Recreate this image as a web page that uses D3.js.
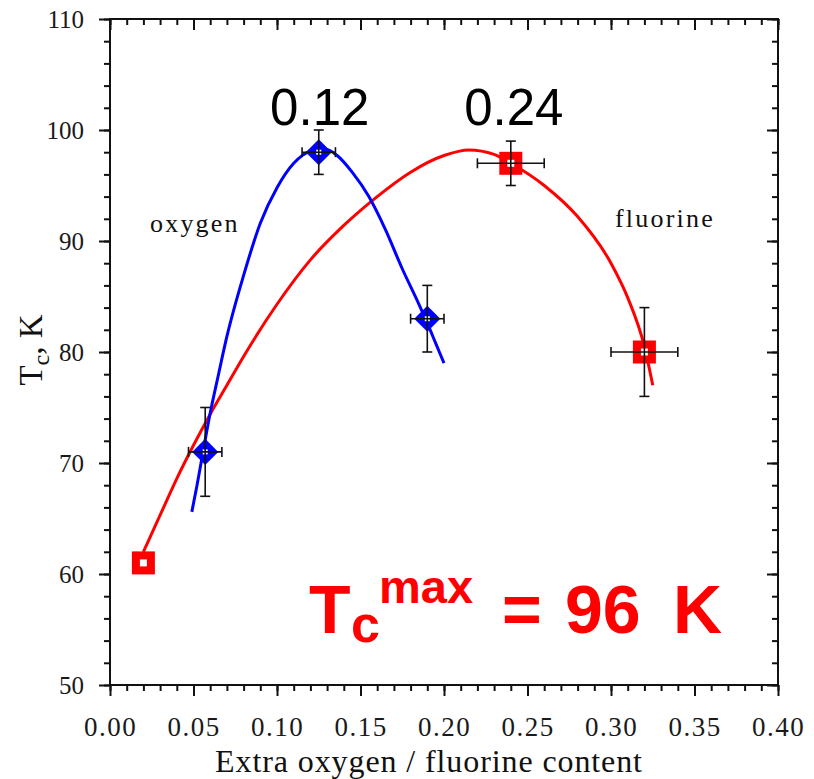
<!DOCTYPE html>
<html>
<head>
<meta charset="utf-8">
<script src="https://cdnjs.cloudflare.com/ajax/libs/d3/7.8.5/d3.min.js"></script>
<style>
  body { margin: 0; background: #fff; }
  svg { display: block; }
  .tick text { font-family: "Liberation Serif", "Times New Roman", serif; fill: #1a1a1a; }
</style>
</head>
<body>
<div id="chart"></div>
<script>
// measured points (x = extra content, y = Tc in K)
var oxyX = [0.057, 0.125, 0.19];
var oxyY = [71, 98, 83];
var oxyXErr = [0.01, 0.01, 0.01];
var oxyYErr = [4, 2, 3];

var fluX = [0.02, 0.24, 0.32];
var fluY = [61, 97, 80];
var fluXErr = [0, 0.02, 0.02];
var fluYErr = [0, 2, 4];

// fit curves
var oxyCurve = [[0.049, 65.6], [0.052, 67.9], [0.055, 70.4], [0.06, 74.5], [0.065, 78.0],
  [0.07, 81.4], [0.08, 86.9], [0.09, 91.6], [0.10, 94.8], [0.11, 97.0], [0.12, 98.1],
  [0.128, 98.3], [0.136, 97.7], [0.145, 96.2], [0.155, 94.0], [0.165, 91.0],
  [0.175, 87.5], [0.185, 84.3], [0.19, 82.6], [0.195, 80.8], [0.2, 79.0]];
var fluCurve = [[0.02, 62.0], [0.03, 65.3], [0.04, 68.6], [0.05, 71.6], [0.06, 74.4],
  [0.07, 77.0], [0.08, 79.6], [0.10, 84.3], [0.12, 88.3], [0.14, 91.4], [0.16, 94.0],
  [0.18, 96.2], [0.20, 97.7], [0.215, 98.2], [0.23, 97.8], [0.24, 97.0], [0.26, 95.0],
  [0.28, 92.2], [0.30, 88.0], [0.31, 84.9], [0.32, 80.5], [0.325, 77.0]];

var xMajor = [0, 0.05, 0.1, 0.15, 0.2, 0.25, 0.3, 0.35, 0.4];
var xMinor = d3.range(0, 41).map(function(i) { return i / 100; });
var yMajor = [50, 60, 70, 80, 90, 100, 110];
var yMinor = d3.range(50, 111, 2);

var width = 814, height = 779;
var plotL = 110, plotR = 778, plotT = 19, plotB = 685;

var svg = d3.select("#chart").append("svg")
  .attr("width", width)
  .attr("height", height);

var x = d3.scaleLinear().domain([0, 0.4]).range([plotL, plotR]);
var y = d3.scaleLinear().domain([50, 110]).range([plotB, plotT]);

function drawAxis(axis, tx, ty, fontSize) {
  var g = svg.append("g")
    .attr("transform", "translate(" + tx + "," + ty + ")")
    .call(axis);
  g.select(".domain").remove();
  g.selectAll(".tick line").attr("stroke", "#111").attr("stroke-width", 2);
  g.selectAll(".tick text").style("font-size", fontSize + "px");
  return g;
}

// minor ticks
drawAxis(d3.axisBottom(x).tickValues(xMinor).tickSize(6).tickFormat(""), 0, plotB);
drawAxis(d3.axisTop(x).tickValues(xMinor).tickSize(-6).tickFormat(""), 0, plotT);
drawAxis(d3.axisLeft(y).tickValues(yMinor).tickSize(6).tickFormat(""), plotL, 0);
drawAxis(d3.axisRight(y).tickValues(yMinor).tickSize(-6).tickFormat(""), plotR, 0);

// major ticks
var bx = drawAxis(d3.axisBottom(x).tickValues(xMajor).tickSize(11).tickPadding(21)
  .tickFormat(d3.format(".2f")), 0, plotB, 27);
drawAxis(d3.axisTop(x).tickValues(xMajor).tickSize(-11).tickFormat(""), 0, plotT);
var ly = drawAxis(d3.axisLeft(y).tickValues(yMajor).tickSize(11).tickPadding(15)
  .tickFormat(d3.format("d")), plotL, 0, 25);
drawAxis(d3.axisRight(y).tickValues(yMajor).tickSize(-11).tickFormat(""), plotR, 0);
bx.selectAll(".tick text").attr("letter-spacing", "1.5px");

// frame
svg.append("rect")
  .attr("x", plotL).attr("y", plotT)
  .attr("width", plotR - plotL).attr("height", plotB - plotT)
  .attr("fill", "none").attr("stroke", "#111").attr("stroke-width", 2);

// axis titles
svg.append("text")
  .attr("x", 429)
  .attr("y", 772)
  .attr("text-anchor", "middle")
  .attr("letter-spacing", "0.9px")
  .style("font-family", "Liberation Serif, serif")
  .style("font-size", "32px")
  .attr("fill", "#111")
  .text("Extra oxygen / fluorine content");

var yt = svg.append("text")
  .attr("transform", "translate(42,350) rotate(-90)")
  .attr("text-anchor", "middle")
  .style("font-family", "Liberation Serif, serif")
  .style("font-size", "33px")
  .attr("fill", "#111");
yt.append("tspan").text("T");
yt.append("tspan").attr("dy", 7).style("font-size", "24px").text("c");
yt.append("tspan").attr("dy", -7).text(", K");

// fit curves
var line = d3.line()
  .x(function(d) { return x(d[0]); })
  .y(function(d) { return y(d[1]); })
  .curve(d3.curveMonotoneX);

svg.append("path").datum(fluCurve)
  .attr("d", line).attr("fill", "none")
  .attr("stroke", "#ff0000").attr("stroke-width", 3);
svg.append("path").datum(oxyCurve)
  .attr("d", line).attr("fill", "none")
  .attr("stroke", "#0000ff").attr("stroke-width", 3);

var oxyData = oxyX.map(function(v, i) {
  return { x: v, y: oxyY[i], ex: oxyXErr[i], ey: oxyYErr[i] };
});
var fluData = fluX.map(function(v, i) {
  return { x: v, y: fluY[i], ex: fluXErr[i], ey: fluYErr[i] };
});

// markers
svg.selectAll(".sq").data(fluData).enter().append("rect")
  .attr("class", "sq")
  .attr("x", function(d) { return x(d.x) - 11.5; })
  .attr("y", function(d) { return y(d.y) - 11.5; })
  .attr("width", 23).attr("height", 23)
  .attr("fill", "#ff0000");
svg.selectAll(".sqc").data(fluData).enter().append("rect")
  .attr("x", function(d) { return x(d.x) - 3.5; })
  .attr("y", function(d) { return y(d.y) - 3.5; })
  .attr("width", 7).attr("height", 7)
  .attr("fill", "#fff");

var diamond = d3.symbol().type(d3.symbolSquare).size(340);
svg.selectAll(".dm").data(oxyData).enter().append("path")
  .attr("d", diamond)
  .attr("transform", function(d) { return "translate(" + x(d.x) + "," + y(d.y) + ") rotate(45)"; })
  .attr("fill", "#0000ff");
svg.selectAll(".dmc").data(oxyData).enter().append("rect")
  .attr("x", function(d) { return x(d.x) - 2.5; })
  .attr("y", function(d) { return y(d.y) - 2.5; })
  .attr("width", 5).attr("height", 5)
  .attr("fill", "#fff");

// error bars
function errorBars(data) {
  var g = svg.append("g").attr("stroke", "#111").attr("stroke-width", 1.6).attr("fill", "none");
  data.forEach(function(d) {
    if (d.ey > 0) {
      g.append("line").attr("x1", x(d.x)).attr("x2", x(d.x))
        .attr("y1", y(d.y + d.ey)).attr("y2", y(d.y - d.ey));
      [d.y + d.ey, d.y - d.ey].forEach(function(v) {
        g.append("line").attr("x1", x(d.x) - 5).attr("x2", x(d.x) + 5)
          .attr("y1", y(v)).attr("y2", y(v));
      });
    }
    if (d.ex > 0) {
      g.append("line").attr("y1", y(d.y)).attr("y2", y(d.y))
        .attr("x1", x(d.x - d.ex)).attr("x2", x(d.x + d.ex));
      [d.x - d.ex, d.x + d.ex].forEach(function(v) {
        g.append("line").attr("y1", y(d.y) - 5).attr("y2", y(d.y) + 5)
          .attr("x1", x(v)).attr("x2", x(v));
      });
    }
  });
}
errorBars(oxyData);
errorBars(fluData);

// labels
function label(txt, px, py, size, anchor) {
  return svg.append("text")
    .attr("x", px).attr("y", py)
    .attr("text-anchor", anchor || "start")
    .style("font-family", "Liberation Serif, serif")
    .style("font-size", size + "px")
    .attr("fill", "#111")
    .text(txt);
}
label("oxygen", 150, 232, 26).attr("letter-spacing", "2.2px");
label("fluorine", 615, 227, 26).attr("letter-spacing", "2.2px");

svg.append("text").attr("x", x(0.125) + 1).attr("y", 125)
  .attr("text-anchor", "middle")
  .style("font-family", "Liberation Sans, Arial, sans-serif")
  .style("font-size", "51px").attr("fill", "#000")
  .text("0.12");
svg.append("text").attr("x", x(0.24) + 3).attr("y", 125)
  .attr("text-anchor", "middle")
  .style("font-family", "Liberation Sans, Arial, sans-serif")
  .style("font-size", "51px").attr("fill", "#000")
  .text("0.24");

// Tc max annotation
var big = svg.append("text")
  .style("font-family", "Liberation Sans, Arial, sans-serif")
  .style("font-weight", "bold")
  .attr("fill", "#ff0000");
big.append("tspan").attr("x", 309).attr("y", 633).style("font-size", "68px").text("T");
big.append("tspan").attr("x", 351).attr("y", 642).style("font-size", "52px").text("c");
big.append("tspan").attr("x", 379).attr("y", 603).style("font-size", "47px").text("max");
big.append("tspan").attr("x", 502).attr("y", 633).style("font-size", "68px").text("=");
big.append("tspan").attr("x", 565).attr("y", 633).style("font-size", "68px").text("96");
big.append("tspan").attr("x", 673).attr("y", 633).style("font-size", "68px").text("K");
</script>
</body>
</html>
